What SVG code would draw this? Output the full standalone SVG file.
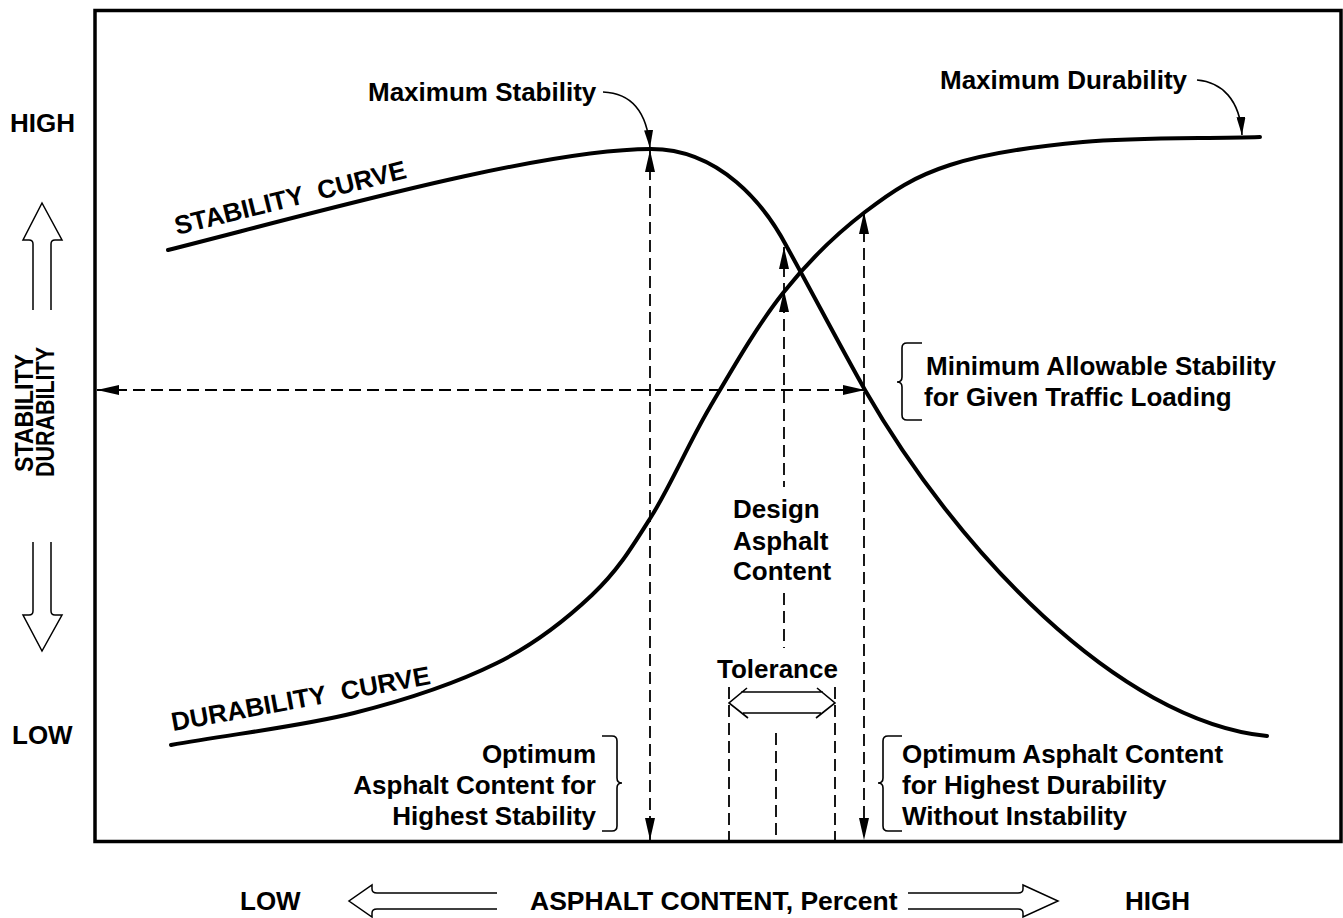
<svg xmlns="http://www.w3.org/2000/svg" width="1343" height="918" viewBox="0 0 1343 918">
<style>
  .t { font-family: "Liberation Sans", Arial, sans-serif; font-weight: bold; font-size: 26px; fill: #000; }
  .curve { fill: none; stroke: #000; stroke-width: 4; stroke-linecap: round; }
  .dash { fill: none; stroke: #000; stroke-width: 1.8; stroke-dasharray: 12 6; }
  .thin { fill: none; stroke: #000; stroke-width: 1.6; }
  .hollow { fill: none; stroke: #000; stroke-width: 1.5; stroke-linejoin: miter; }
  .brace { fill: none; stroke: #000; stroke-width: 1.6; }
</style>
<defs>
  <marker id="ah" viewBox="0 0 22 10" markerWidth="22" markerHeight="10" refX="22" refY="5" markerUnits="userSpaceOnUse" orient="auto-start-reverse">
    <path d="M0,0 L22,5 L0,10 z" fill="#000"/>
  </marker>
  <marker id="ahs" viewBox="0 0 18 9" markerWidth="18" markerHeight="9" refX="18" refY="4.5" markerUnits="userSpaceOnUse" orient="auto">
    <path d="M0,0 L18,4.5 L0,9 z" fill="#000"/>
  </marker>
</defs>
<rect x="0" y="0" width="1343" height="918" fill="#fff"/>

<g id="frame">
  <rect x="95" y="10.5" width="1246" height="831" fill="none" stroke="#000" stroke-width="3.5"/>
</g>

<g id="connectors">
  <!-- max stability vertical -->
  <path class="dash" d="M650 150 L650 840" marker-start="url(#ah)" marker-end="url(#ah)"/>
  <!-- optimum durability vertical -->
  <path class="dash" d="M864 212 L864 840" marker-start="url(#ah)" marker-end="url(#ah)"/>
  <!-- minimum allowable stability horizontal -->
  <path class="dash" d="M97 390 L865 390" marker-start="url(#ah)" marker-end="url(#ah)"/>
  <!-- design asphalt content -->
  <path class="dash" d="M784 247 L784 487" marker-start="url(#ah)"/>
  <path class="dash" d="M784 290 L784 312" marker-start="url(#ah)"/>
  <path class="dash" d="M784 593 L784 648"/>
  <path class="dash" d="M776 733 L776 840"/>
  <!-- tolerance limits -->
  <path class="dash" d="M729 687 L729 840"/>
  <path class="dash" d="M835 687 L835 840"/>
  <!-- tolerance double arrow -->
  <path class="thin" d="M741 692 L823 692 M743 713 L821 713 M747 688 L729 703 L748 718 M817 688 L835 703 L816 718"/>
  <!-- label pointer arrows -->
  <path class="thin" d="M603 92 C 630 93, 647 110, 650 148" marker-end="url(#ahs)"/>
  <path class="thin" d="M1197 80 C 1222 82, 1240 100, 1242 135" marker-end="url(#ahs)"/>
</g>

<g id="stability-curve">
  <path class="curve" d="M168 250 C318 212, 541 149, 651 149 C720 149, 765 205, 787 247 C813 294, 839 344, 865 390 C955 547, 1117 721, 1267 736"/>
  <text class="t" transform="translate(177,235) rotate(-13.9)" word-spacing="8">STABILITY CURVE</text>
</g>

<g id="durability-curve">
  <path class="curve" d="M171 745 C232 734, 299.7 726.7, 354 713 C408.3 699.3, 457.3 682.7, 497 663 C536.7 643.3, 566.3 619.3, 592 595 C617.7 570.7, 631.3 548.3, 651 517 C670.7 485.7, 688 444.3, 710 407 C732 369.7, 757.2 325.5, 783 293 C808.8 260.5, 837.2 233.3, 865 212 C892.8 190.7, 913.7 176.7, 950 165 C986.3 153.3, 1031.3 146.7, 1083 142 C1134.7 137.3, 1201 138.7, 1260 137"/>
  <text class="t" transform="translate(173,731) rotate(-10.3)" word-spacing="8">DURABILITY CURVE</text>
</g>

<g id="y-axis-labels">
  <text class="t" x="10" y="132">HIGH</text>
  <text class="t" x="12" y="744">LOW</text>
  <text class="t" style="font-size:25px" transform="translate(33,413) rotate(-90)" text-anchor="middle" textLength="118" lengthAdjust="spacingAndGlyphs">STABILITY</text>
  <text class="t" style="font-size:25px" transform="translate(54,412) rotate(-90)" text-anchor="middle" textLength="130" lengthAdjust="spacingAndGlyphs">DURABILITY</text>
  <path class="hollow" d="M33 310 L33 244 Q33 240 29 240 L23 240 L42 203 L62 240 L55 240 Q51 240 51 244 L51 310"/>
  <path class="hollow" d="M33 542 L33 611 Q33 615 29 615 L23 615 L42 651 L62 615 L55 615 Q51 615 51 611 L51 542"/>
</g>

<g id="x-axis-labels">
  <text class="t" x="240" y="910">LOW</text>
  <text class="t" style="font-size:26.5px" x="530" y="910">ASPHALT CONTENT, Percent</text>
  <text class="t" x="1125" y="910">HIGH</text>
  <path class="hollow" d="M497 893 L377 893 Q372 893 372 889 L372 885 L349 901 L372 917 L372 913 Q372 909 377 909 L497 909"/>
  <path class="hollow" d="M908 893 L1018 893 Q1023 893 1023 889 L1023 885 L1058 901 L1023 917 L1023 913 Q1023 909 1018 909 L908 909"/>
</g>

<g id="max-stability">
  <text class="t" x="368" y="101">Maximum Stability</text>
</g>

<g id="max-durability">
  <text class="t" x="940" y="89">Maximum Durability</text>
</g>

<g id="min-allowable-stability">
  <path class="brace" d="M922 343 L907 343 Q902 343 902 348 L902 377 Q902 382 897 382 Q902 382 902 387 L902 415 Q902 420 907 420 L922 420"/>
  <text class="t" x="926" y="375">Minimum Allowable Stability</text>
  <text class="t" x="924" y="406">for Given Traffic Loading</text>
</g>

<g id="design-asphalt-content">
  <text class="t" x="733" y="518">Design</text>
  <text class="t" x="733" y="550">Asphalt</text>
  <text class="t" x="733" y="580">Content</text>
</g>

<g id="tolerance">
  <text class="t" x="717" y="678">Tolerance</text>
</g>

<g id="optimum-stability">
  <path class="brace" d="M602 736 L612 736 Q617 736 617 741 L617 778 Q617 783 622 783 Q617 783 617 788 L617 826 Q617 831 612 831 L602 831"/>
  <text class="t" x="596" y="763" text-anchor="end">Optimum</text>
  <text class="t" x="596" y="794" text-anchor="end">Asphalt Content for</text>
  <text class="t" x="596" y="825" text-anchor="end">Highest Stability</text>
</g>

<g id="optimum-durability">
  <path class="brace" d="M902 736 L888 736 Q883 736 883 741 L883 778 Q883 783 878 783 Q883 783 883 788 L883 826 Q883 831 888 831 L902 831"/>
  <text class="t" x="902" y="763">Optimum Asphalt Content</text>
  <text class="t" x="902" y="794">for Highest Durability</text>
  <text class="t" x="902" y="825">Without Instability</text>
</g>
</svg>
